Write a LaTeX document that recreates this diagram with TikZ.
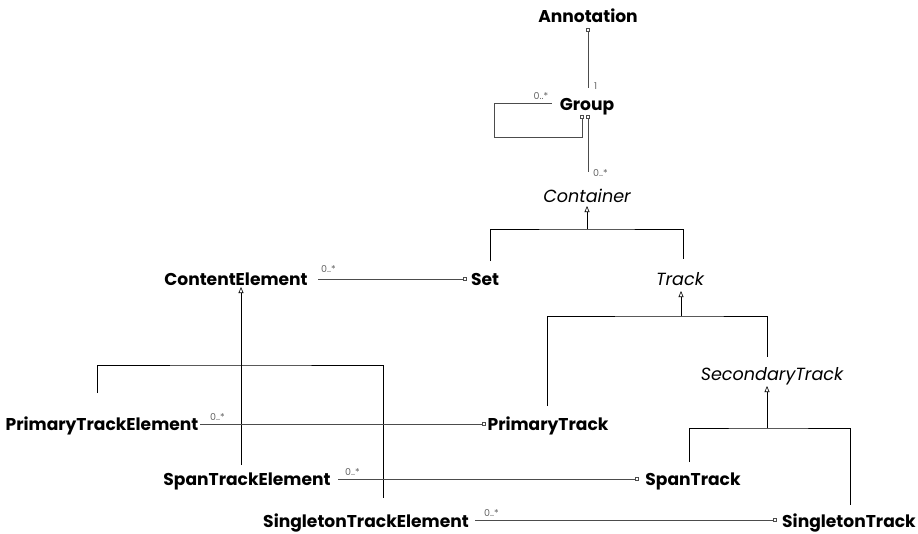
\documentclass[tikz,border=0pt]{standalone}
\usepackage{fontspec}
\setmainfont{Poppins}
\usetikzlibrary{arrows.meta}
\begin{document}
\begin{tikzpicture}[x=1pt,y=-1pt,
  cls/.style={anchor=base,inner sep=0pt,font=\fontsize{17.1}{20}\selectfont\bfseries},
  abstr/.style={anchor=base,inner sep=0pt,font=\fontsize{17.6}{20}\selectfont\itshape},
  mult/.style={inner sep=0pt,text=black!60,font=\fontsize{9.5}{11}\selectfont},
  assoc/.style={draw=black!70,line width=0.7pt},
  owned/.style={assoc,-{Square[open,length=4pt,width=4pt,line width=0.6pt]}},
  owner/.style={assoc,{Square[open,length=4pt,width=4pt,line width=0.6pt]}-},
  tree/.style={draw=black,line width=0.7pt},
  gen/.style={tree,-{Triangle[open,length=6pt,width=5pt,line width=0.6pt]}}]
\useasboundingbox (0,0) rectangle (918,533);
\fill[white] (0,0) rectangle (918,533);

% classes
\node[cls]   (ann)   at (588,22)  {Annotation};
\node[cls]   (grp)   at (587,110) {Group};
\node[abstr] (cont)  at (587,202) {Container};
\node[cls]   (ce)    at (236,285) {ContentElement};
\node[cls]   (set)   at (485,285) {Set};
\node[abstr] (track) at (680,285) {Track};
\node[abstr] (sec)   at (772,380) {SecondaryTrack};
\node[cls]   (pte)   at (102,430) {PrimaryTrackElement};
\node[cls]   (pt)    at (548,430) {PrimaryTrack};
\node[cls]   (ste)   at (247,485) {SpanTrackElement};
\node[cls]   (st)    at (693,485) {SpanTrack};
\node[cls]   (sgte)  at (366,527) {SingletonTrackElement};
\node[cls]   (sgt)   at (849,527) {SingletonTrack};

% Annotation -- Group
\coordinate (annS) at (588,28);
\coordinate (grpN) at (588,88);
\draw[owner] (annS) -- (grpN);
\node[mult,anchor=south west] (m1) at (594,90) {1};

% Group self association
\coordinate (loopA) at (582,115);
\coordinate (loopB) at (494,137);
\coordinate (loopC) at (552,103);
\draw[owner] (loopA) |- (loopB) |- (loopC);
\node[mult,anchor=south] (m2) at (541,100) {0..*};

% Group -- Container
\coordinate (grpS) at (588,115);
\coordinate (contN) at (588,172);
\draw[owner] (grpS) -- (contN);
\node[mult,anchor=south west] (m3) at (593,177) {0..*};

% Container generalisation
\coordinate (cj) at (587,229);
\coordinate (setN) at (490,261);
\coordinate (trackN) at (683,259);
\draw[gen] (cj) -- (587,206);
\draw[tree] (setN) |- (cj) -| (trackN);

% Track generalisation
\coordinate (tj) at (681,316);
\coordinate (ptN) at (547,406);
\coordinate (secN) at (767,357);
\draw[gen] (tj) -- (681,291);
\draw[tree] (ptN) |- (tj) -| (secN);

% SecondaryTrack generalisation
\coordinate (sj) at (767,428);
\coordinate (stN) at (689,462);
\coordinate (sgtN) at (850,505);
\draw[gen] (sj) -- (767,386);
\draw[tree] (stN) |- (sj) -| (sgtN);

% ContentElement generalisation
\coordinate (ej) at (241,365);
\coordinate (pteN) at (97,393);
\coordinate (steN) at (241,465);
\coordinate (sgteN) at (383,498);
\draw[gen] (steN) -- (241,287);
\draw[tree] (pteN) |- (ej) -| (sgteN);

% element -- container associations
\coordinate (ceE) at (318,279);
\coordinate (setW) at (467,279);
\draw[owned] (ceE) -- (setW);
\node[mult,anchor=south west] (m4) at (321,273) {0..*};

\coordinate (pteE) at (200,424);
\coordinate (ptW) at (486,424);
\draw[owned] (pteE) -- (ptW);
\node[mult,anchor=south west] (m5) at (210,421) {0..*};

\coordinate (steE) at (338,479);
\coordinate (stW) at (639,479);
\draw[owned] (steE) -- (stW);
\node[mult,anchor=south west] (m6) at (345,476) {0..*};

\coordinate (sgteE) at (475,520);
\coordinate (sgtW) at (777,520);
\draw[owned] (sgteE) -- (sgtW);
\node[mult,anchor=south west] (m7) at (484,517) {0..*};
\end{tikzpicture}
\end{document}
